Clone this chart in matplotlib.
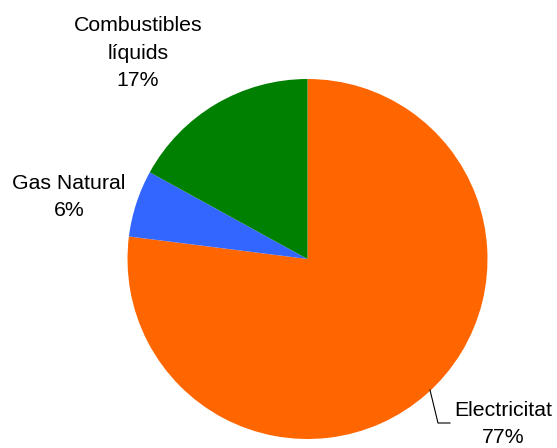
import matplotlib.pyplot as plt

plt.rcParams['font.family'] = ['Liberation Sans', 'DejaVu Sans']

labels = ['Electricitat', 'Gas Natural', 'Combustibles\nlíquids']
shares = [77, 6, 17]
colors = ['#FF6600', '#3366FF', '#008000']

W, H = 557, 448
fig = plt.figure(figsize=(W / 100, H / 100), dpi=100)

# pie centre at (307.5, 259) px, radius 180 px
cx, cy, r = 307.5, 259, 180
ax = fig.add_axes([(cx - r) / W, (H - cy - r) / H, 2 * r / W, 2 * r / H])
ax.pie(shares, colors=colors, startangle=90, counterclock=False,
       radius=1, wedgeprops=dict(linewidth=0))
ax.set_xlim(-1, 1)
ax.set_ylim(-1, 1)
ax.set_aspect('equal')
ax.axis('off')


def to_data(px, py):
    return (px - cx) / r, (cy - py) / r


label_pos = [(503.5, 424), (69, 197), (138, 53)]
for lab, val, (px, py) in zip(labels, shares, label_pos):
    x, y = to_data(px, py)
    ax.text(x, y, f'{lab}\n{val}%', ha='center', va='center',
            fontsize=15.3, linespacing=1.55, clip_on=False)

# leader line for the large slice
pts = [to_data(430, 390), to_data(438, 423), to_data(450, 423)]
ax.plot([p[0] for p in pts], [p[1] for p in pts], color='black',
        linewidth=0.8, clip_on=False)

fig.savefig('out.png', dpi=100)
